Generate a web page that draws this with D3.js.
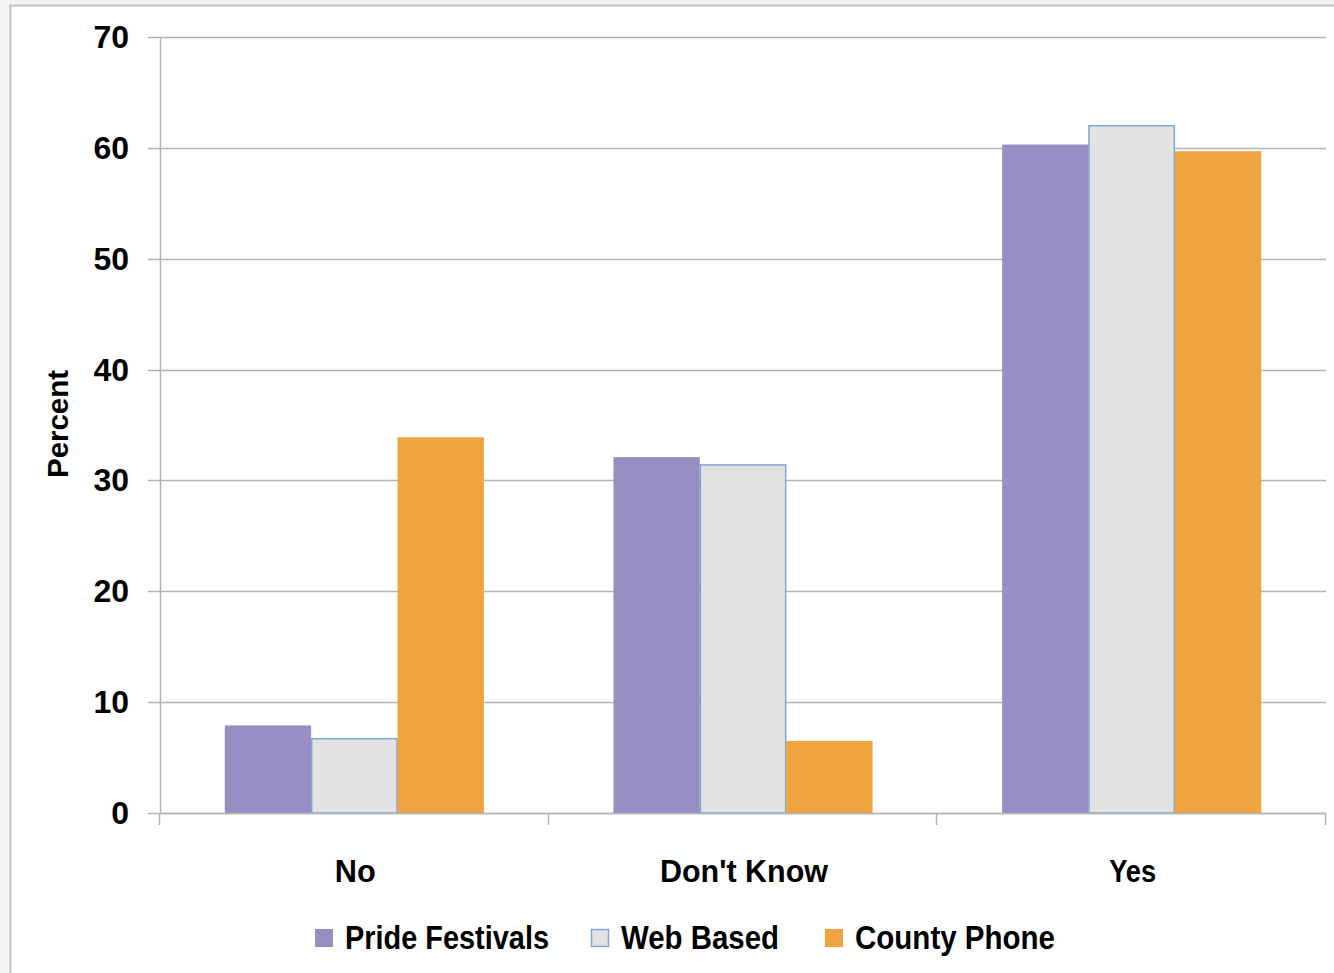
<!DOCTYPE html>
<html>
<head>
<meta charset="utf-8">
<script src="https://cdn.jsdelivr.net/npm/d3@7"></script>
<style>
  html, body { margin: 0; padding: 0; background: #fff; }
  svg { display: block; }
  text { font-family: "Liberation Sans", Arial, sans-serif; fill: #000; }
</style>
</head>
<body>
<svg id="chart" width="1334" height="973"></svg>
<script>
// Survey responses by recruitment source (percent)
const categories = ["No", "Don't Know", "Yes"];
const seriesNames = ["Pride Festivals", "Web Based", "County Phone"];
const prideFestivals = [7.9, 32.1, 60.3];
const webBased = [6.7, 31.4, 62.0];
const countyPhone = [33.9, 6.5, 59.7];
const yTicks = [0, 10, 20, 30, 40, 50, 60, 70];

const seriesValues = [prideFestivals, webBased, countyPhone];
const fills = ["#988ec3", "#e2e2e2", "#f0a43f"];
const strokes = [null, "#7ea6d8", null];

const svg = d3.select("#chart");

// outer frame
svg.append("rect").attr("x", 0).attr("y", 0).attr("width", 1334).attr("height", 973).attr("fill", "#f4f4f4");
svg.append("rect").attr("x", 10.5).attr("y", 5.5).attr("width", 1340).attr("height", 980)
  .attr("fill", "#fff").attr("stroke", "#c4c4c4").attr("stroke-width", 2);

const plot = { left: 160, right: 1326, top: 37, bottom: 813 };

const y = d3.scaleLinear().domain([0, 70]).range([plot.bottom, plot.top]);
const x0 = d3.scaleBand().domain(categories).range([plot.left, plot.right]).paddingInner(0).paddingOuter(0);
// 150% gap width: each band holds 3 bars plus 1.5 bar-widths of gap
const barW = x0.bandwidth() / 4.5;
const x1 = d3.scaleBand().domain(seriesNames)
  .range([barW * 0.75, barW * 0.75 + barW * 3]).padding(0);

// gridlines with left tick marks
svg.append("g").selectAll("line").data(yTicks).join("line")
  .attr("x1", plot.left - 12).attr("x2", plot.right)
  .attr("y1", d => Math.round(y(d)) + 0.5).attr("y2", d => Math.round(y(d)) + 0.5)
  .attr("stroke", "#b4b4b4").attr("stroke-width", 1.5);

// y axis line
svg.append("line").attr("x1", plot.left + 0.5).attr("x2", plot.left + 0.5)
  .attr("y1", plot.top).attr("y2", plot.bottom)
  .attr("stroke", "#b4b4b4").attr("stroke-width", 1.5);

// y tick labels
svg.append("g").selectAll("text").data(yTicks).join("text")
  .attr("x", 129).attr("y", d => y(d) + 11)
  .attr("text-anchor", "end")
  .attr("font-size", 32).attr("font-weight", "bold")
  .text(d => d);

// y axis title
svg.append("text")
  .attr("transform", "translate(68,424) rotate(-90)")
  .attr("text-anchor", "middle")
  .attr("font-size", 30).attr("font-weight", "bold")
  .attr("textLength", 108).attr("lengthAdjust", "spacingAndGlyphs")
  .text("Percent");

// bars
const groups = svg.append("g").selectAll("g").data(categories).join("g")
  .attr("transform", c => `translate(${x0(c)},0)`);

groups.selectAll("rect")
  .data((c, ci) => seriesNames.map((s, si) => ({ s, si, v: seriesValues[si][ci] })))
  .join("rect")
  .attr("x", d => x1(d.s) + (strokes[d.si] ? 0.5 : 0))
  .attr("y", d => y(d.v))
  .attr("width", d => x1.bandwidth() - (strokes[d.si] ? 1 : 0))
  .attr("height", d => y(0) - y(d.v))
  .attr("fill", d => fills[d.si])
  .attr("stroke", d => strokes[d.si] || "none")
  .attr("stroke-width", 1.5);

// x axis baseline and category ticks
svg.append("line").attr("x1", plot.left).attr("x2", plot.right)
  .attr("y1", plot.bottom + 0.5).attr("y2", plot.bottom + 0.5)
  .attr("stroke", "#b4b4b4").attr("stroke-width", 1.5);
const catEdges = [plot.left].concat(categories.map(c => x0(c) + x0.bandwidth()));
svg.append("g").selectAll("line").data(catEdges).join("line")
  .attr("x1", d => Math.round(d) - 0.5).attr("x2", d => Math.round(d) - 0.5)
  .attr("y1", plot.bottom).attr("y2", plot.bottom + 12)
  .attr("stroke", "#b4b4b4").attr("stroke-width", 1.5);

// category labels
const catWidths = { "No": 41, "Don't Know": 168, "Yes": 47 };
svg.append("g").selectAll("text").data(categories).join("text")
  .attr("x", c => x0(c) + x0.bandwidth() / 2 + 1)
  .attr("y", 882)
  .attr("text-anchor", "middle")
  .attr("font-size", 32).attr("font-weight", "bold")
  .attr("textLength", c => catWidths[c]).attr("lengthAdjust", "spacingAndGlyphs")
  .text(c => c);

// legend
const legendX = [315, 591, 825];
const legendW = [204, 158, 200];
const leg = svg.append("g").selectAll("g").data(seriesNames).join("g")
  .attr("transform", (s, i) => `translate(${legendX[i]},929)`);
leg.append("rect")
  .attr("x", (s, i) => strokes[i] ? 0.5 : 0).attr("y", (s, i) => strokes[i] ? 0.5 : 0)
  .attr("width", (s, i) => strokes[i] ? 17 : 18).attr("height", (s, i) => strokes[i] ? 17 : 18)
  .attr("fill", (s, i) => fills[i])
  .attr("stroke", (s, i) => strokes[i] || "none").attr("stroke-width", 1.5);
leg.append("text")
  .attr("x", 30).attr("y", 20)
  .attr("font-size", 33)
  .attr("textLength", (s, i) => legendW[i]).attr("lengthAdjust", "spacingAndGlyphs")
  .style("font-weight", 600)
  .text(s => s);
</script>
</body>
</html>
